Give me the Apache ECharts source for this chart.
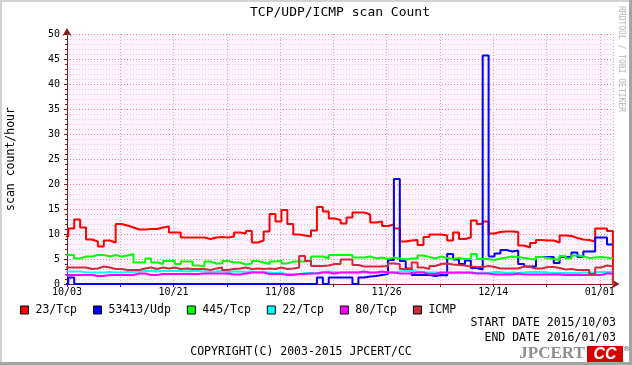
<!DOCTYPE html>
<html><head><meta charset="utf-8">
<script src="https://cdn.jsdelivr.net/npm/echarts@6/dist/echarts.min.js"></script>
<style>html,body{margin:0;padding:0;background:#fff}#c{width:632px;height:365px}</style>
</head><body><div id="c"></div>
<script>
const chartTitle = 'TCP/UDP/ICMP scan Count';
const yAxisName = 'scan count/hour';
const tickLabels = ['10/03', '10/21', '11/08', '11/26', '12/14', '01/01'];
const seriesNames = ['23/Tcp', '53413/Udp', '445/Tcp', '22/Tcp', '80/Tcp', 'ICMP'];
const seriesColors = ['#ff0000', '#0000ff', '#00ff00', '#00ffff', '#ff00ff', '#d22a3a'];

// daily samples, 2015/10/03 .. 2016/01/03
const tcp23 = [9.5, 11.1, 12.9, 11.3, 8.9, 8.5, 7.5, 8.7, 8.3, 12.0,
  11.7, 11.3, 10.9, 10.9, 11.0, 11.0, 11.3, 11.5, 10.3, 10.3,
  9.3, 9.3, 9.3, 9.3, 9.0, 9.3, 9.4, 9.3, 9.5, 10.3,
  10.1, 10.6, 8.3, 8.7, 10.5, 14.0, 12.5, 14.8, 12.0, 9.9,
  9.7, 9.5, 10.7, 15.4, 14.5, 13.1, 12.8, 12.1, 13.3, 14.3,
  14.3, 13.9, 12.3, 12.5, 11.6, 11.9, 11.1, 8.5, 8.7, 8.8,
  7.8, 9.4, 9.9, 9.9, 9.7, 8.7, 10.3, 9.0, 9.3, 12.7,
  12.0, 12.5, 10.1, 10.4, 10.5, 10.5, 10.4, 7.7, 7.3, 8.2,
  8.8, 8.7, 8.7, 8.3, 9.7, 9.6, 9.2, 8.9, 8.8, 8.5,
  11.1, 11.1, 10.6, 0];
const udp53413 = [0, 1.3, 0, 0, 0, 0, 0, 0, 0, 0,
  0, 0, 0, 0, 0, 0, 0, 0, 0, 0,
  0, 0, 0, 0, 0, 0, 0, 0, 0, 0,
  0, 0, 0, 0, 0, 0, 0, 0, 0, 0,
  0, 0, 0, 1.3, 0, 1.3, 1.3, 1.3, 1.3, 0,
  1.3, 1.5, 1.6, 1.8, 2.0, 4.8, 21.0, 4.6, 3.1, 1.8,
  1.8, 1.8, 1.6, 1.8, 1.7, 6.0, 4.9, 4.0, 4.7, 3.2,
  2.9, 45.7, 5.5, 6.1, 6.8, 6.5, 6.7, 4.0, 3.5, 3.5,
  5.4, 5.4, 5.4, 4.2, 5.4, 5.4, 6.3, 5.4, 6.5, 6.5,
  9.3, 9.3, 7.9];
const tcp445 = [5.8, 5.8, 5.1, 5.5, 5.5, 5.8, 5.8, 5.5, 5.8, 5.5,
  5.7, 6.0, 4.3, 4.3, 5.1, 4.3, 4.0, 4.6, 4.6, 4.0,
  4.5, 4.5, 3.7, 3.5, 4.5, 4.1, 4.1, 4.6, 4.3, 4.3,
  3.9, 4.1, 4.6, 4.3, 4.0, 4.5, 4.7, 4.1, 4.5, 4.5,
  4.5, 4.7, 5.5, 5.5, 5.1, 5.8, 5.8, 5.8, 5.8, 5.3,
  5.3, 5.5, 5.1, 5.3, 5.0, 5.3, 5.1, 4.9, 5.1, 5.1,
  5.7, 5.4, 5.1, 5.5, 5.2, 5.0, 5.2, 5.0, 5.0, 6.0,
  5.0, 5.0, 4.8, 5.1, 5.3, 5.5, 5.4, 5.2, 5.0, 4.9,
  5.4, 5.2, 5.0, 4.8, 5.6, 5.1, 5.7, 5.5, 5.2, 5.3,
  5.4, 5.3, 5.1];
const tcp22 = [2.5, 2.5, 2.5, 2.3, 2.3, 2.3, 2.3, 2.4, 2.3, 2.3,
  2.4, 2.4, 2.5, 2.6, 2.6, 2.5, 2.6, 2.6, 2.6, 2.6,
  2.5, 2.6, 2.6, 2.5, 2.4, 2.5, 2.6, 2.4, 2.5, 2.5,
  2.4, 2.5, 2.4, 2.4, 2.3, 2.2, 2.2, 2.0, 2.0, 2.0,
  2.2, 2.2, 2.2, 2.4, 2.5, 2.4, 2.3, 2.3, 2.4, 2.3,
  2.3, 2.2, 2.3, 2.3, 2.3, 2.3, 2.5, 2.6, 2.6, 2.5,
  2.4, 2.3, 2.3, 2.3, 2.2, 2.2, 2.3, 2.2, 2.3, 2.2,
  2.3, 2.2, 2.4, 2.4, 2.2, 2.3, 2.2, 2.3, 2.4, 2.4,
  2.4, 2.3, 2.2, 2.2, 2.2, 2.2, 2.2, 2.3, 2.3, 2.3,
  2.4, 2.4, 2.4];
const tcp80 = [1.8, 1.8, 1.8, 1.8, 1.8, 1.6, 1.6, 1.8, 1.8, 1.8,
  1.8, 1.8, 2.1, 2.1, 1.8, 1.8, 2.0, 2.0, 2.0, 2.0,
  2.0, 2.0, 2.0, 2.1, 2.1, 2.1, 2.1, 2.1, 1.9, 1.9,
  2.1, 2.3, 2.3, 2.3, 2.0, 2.0, 2.0, 1.8, 1.8, 2.0,
  2.0, 2.1, 2.1, 2.3, 2.3, 2.1, 2.3, 2.3, 2.3, 2.3,
  2.5, 2.3, 2.3, 2.5, 2.3, 2.3, 2.1, 2.1, 2.1, 2.3,
  2.3, 2.0, 2.0, 2.3, 2.3, 2.3, 2.3, 2.3, 2.3, 2.1,
  2.1, 2.1, 1.9, 1.9, 1.9, 1.9, 2.1, 1.9, 1.9, 1.9,
  1.9, 1.9, 1.9, 1.9, 1.8, 1.8, 1.8, 1.8, 1.8, 1.8,
  1.8, 2.1, 2.1];
const icmp = [3.3, 3.3, 3.3, 3.3, 3.0, 3.1, 3.5, 3.3, 3.0, 3.0,
  2.8, 2.8, 2.8, 3.1, 3.3, 3.0, 3.3, 3.1, 3.3, 3.0,
  3.1, 3.0, 3.0, 3.0, 2.8, 3.1, 3.3, 2.8, 3.0, 3.1,
  3.3, 3.0, 3.1, 3.0, 3.1, 3.0, 3.3, 3.0, 3.1, 3.3,
  5.6, 4.6, 3.6, 3.6, 3.7, 4.0, 4.0, 4.9, 4.9, 3.8,
  3.5, 3.5, 3.5, 3.5, 3.6, 4.1, 4.0, 3.0, 3.0, 4.3,
  3.3, 3.0, 3.6, 4.0, 4.1, 3.9, 3.8, 3.7, 3.5, 3.4,
  3.4, 3.6, 3.4, 3.1, 3.1, 3.1, 3.1, 3.5, 3.4, 3.1,
  3.1, 3.4, 3.4, 3.2, 2.9, 3.0, 2.8, 2.8, 2.8, 2.0,
  3.3, 3.7, 3.5, 0];
const seriesValues = [tcp23, udp53413, tcp445, tcp22, tcp80, icmp];

const MONO = '"DejaVu Sans Mono", monospace';
const SAMPLE_OFFSET = -0.78; // sample k covers [k+off, k+1+off] days from 10/03
function toPoints(vals) {
  const pts = vals.map((v, i) => [i + SAMPLE_OFFSET, v]);
  pts.push([vals.length + SAMPLE_OFFSET, vals[vals.length - 1]]);
  return pts;
}

const chart = echarts.init(document.getElementById('c'), null, {renderer: 'canvas'});
const axisColor = '#7c1c1c';
chart.setOption({
  animation: false,
  backgroundColor: '#ffffff',
  grid: {left: 67, top: 34, width: 546.4, height: 250, show: true, backgroundColor: '#fff4fd', borderWidth: 0},
  xAxis: {
    type: 'value', min: 0, max: 92.3, interval: 9,
    axisLine: {show: true, lineStyle: {color: axisColor, width: 1}, symbol: ['none', 'arrow'], symbolSize: [7, 8], symbolOffset: [0, 6]},
    axisTick: {show: true, length: 3, lineStyle: {color: axisColor}},
    axisLabel: {
      margin: 3, fontFamily: MONO, fontSize: 10, color: '#000', showMaxLabel: false,
      formatter: v => (Math.abs(v % 18) < 1e-6 && tickLabels[v / 18] !== undefined) ? tickLabels[v / 18] : ''
    },
    splitLine: {show: true, lineStyle: {color: '#e4a0bc', type: [1, 2], width: 1}}
  },
  yAxis: {
    type: 'value', min: 0, max: 50, interval: 5,
    axisLine: {show: true, lineStyle: {color: axisColor, width: 1}, symbol: ['none', 'arrow'], symbolSize: [7, 8], symbolOffset: [0, 6]},
    axisTick: {show: true, length: 3, lineStyle: {color: axisColor}},
    minorTick: {show: true, splitNumber: 5, length: 2, lineStyle: {color: axisColor}},
    axisLabel: {margin: 7, fontFamily: MONO, fontSize: 10, color: '#000'},
    splitLine: {show: true, lineStyle: {color: '#e08aa8', type: [1, 2], width: 1}},
    minorSplitLine: {show: true, lineStyle: {color: '#f2c6e2', type: [1, 2], width: 1}}
  },
  legend: {
    data: seriesNames, left: 15, top: 299, icon: 'rect', itemWidth: 8, itemHeight: 8, itemGap: 16,
    itemStyle: {borderColor: '#000', borderWidth: 1},
    textStyle: {fontFamily: MONO, fontSize: 11.5, color: '#000', padding: [0, 0, 0, 2]},
    selectedMode: false
  },
  series: seriesNames.map((name, i) => ({
    name, type: 'line', step: 'end', showSymbol: false, symbol: 'none',
    data: toPoints(seriesValues[i]), color: seriesColors[i],
    lineStyle: {width: 2, color: seriesColors[i]}, itemStyle: {color: seriesColors[i]},
    clip: true
  })),
  graphic: [
    {type: 'rect', shape: {x: 0, y: 0, width: 632, height: 2}, style: {fill: '#d2d2d2'}, silent: true},
    {type: 'rect', shape: {x: 0, y: 0, width: 2, height: 365}, style: {fill: '#d2d2d2'}, silent: true},
    {type: 'rect', shape: {x: 629, y: 0, width: 3, height: 365}, style: {fill: '#a4a4a4'}, silent: true},
    {type: 'rect', shape: {x: 0, y: 362, width: 632, height: 3}, style: {fill: '#a4a4a4'}, silent: true},
    {type: 'text', x: 340, y: 13, style: {text: chartTitle, font: '13px ' + MONO, fill: '#000', align: 'center', verticalAlign: 'middle'}},
    {type: 'text', x: 11.5, y: 159, rotation: Math.PI / 2, style: {text: yAxisName, font: '11.5px ' + MONO, fill: '#000', align: 'center', verticalAlign: 'middle'}},
    {type: 'text', x: 621, y: 59, rotation: -Math.PI / 2, style: {text: 'RRDTOOL / TOBI OETIKER', font: '8px ' + MONO, fill: '#b4b4b4', align: 'center', verticalAlign: 'middle'}},
    {type: 'text', x: 616, y: 323, style: {text: 'START DATE 2015/10/03', font: '11.5px ' + MONO, fill: '#000', align: 'right', verticalAlign: 'middle'}},
    {type: 'text', x: 616, y: 338, style: {text: 'END DATE 2016/01/03', font: '11.5px ' + MONO, fill: '#000', align: 'right', verticalAlign: 'middle'}},
    {type: 'text', x: 301, y: 352, style: {text: 'COPYRIGHT(C) 2003-2015 JPCERT/CC', font: '11.5px ' + MONO, fill: '#000', align: 'center', verticalAlign: 'middle'}},
    {type: 'text', x: 552, y: 354, style: {text: 'JPCERT', font: 'bold 17px "Liberation Serif", serif', fill: '#8e8e8e', align: 'center', verticalAlign: 'middle'}},
    {type: 'rect', shape: {x: 587, y: 346, width: 36, height: 16}, style: {fill: '#d40000'}},
    {type: 'text', x: 605, y: 354.5, style: {text: 'CC', font: 'italic bold 16px "Liberation Sans", sans-serif', fill: '#ffffff', align: 'center', verticalAlign: 'middle'}},
    {type: 'text', x: 626.5, y: 349, style: {text: '®', font: '7px "DejaVu Sans", sans-serif', fill: '#555', align: 'center', verticalAlign: 'middle'}}
  ]
});
</script></body></html>
